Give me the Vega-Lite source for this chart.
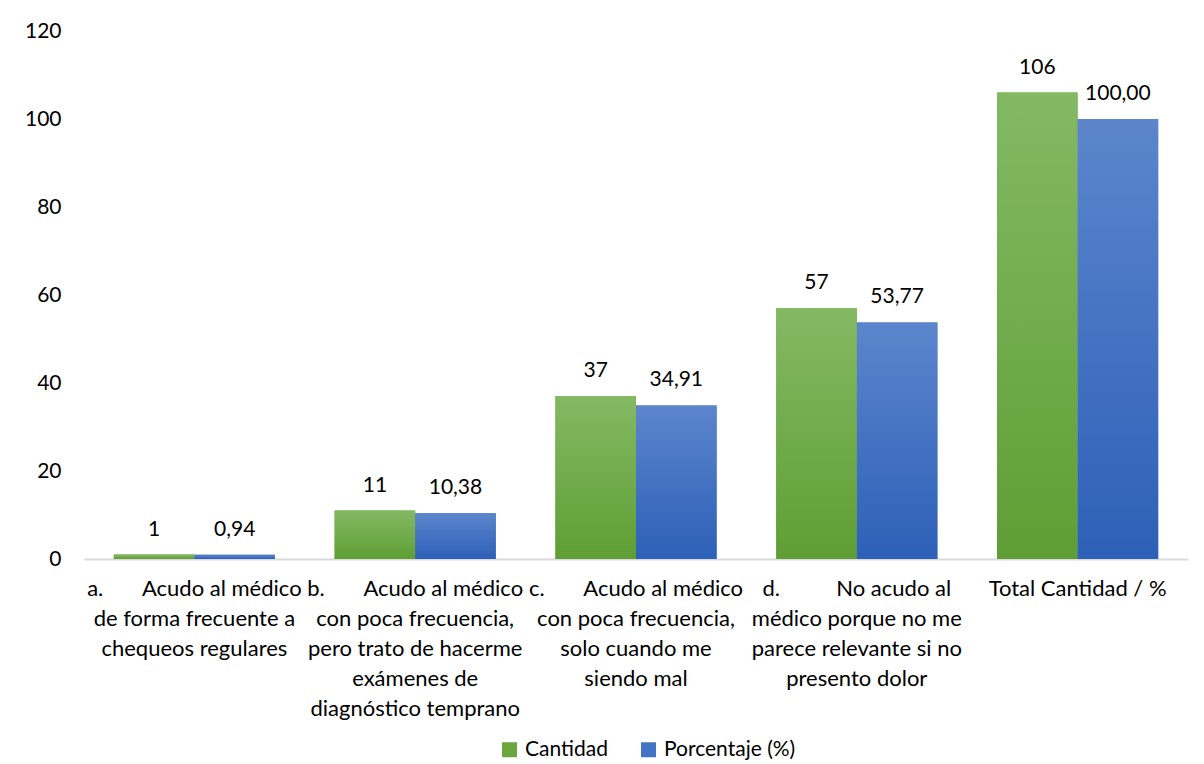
{
  "$schema": "https://vega.github.io/schema/vega-lite/v6.json",
  "width": 1104,
  "height": 528,
  "autosize": "none",
  "padding": {"left": 84, "top": 31, "right": 16, "bottom": 205},
  "background": "white",
  "config": {
    "view": {"stroke": null},
    "font": "Lato",
    "locale": {"number": {"decimal": ",", "thousands": ".", "grouping": [3], "currency": ["", ""]}}
  },
  "data": {
    "values": [
      {"categoria": "a. Acudo al médico de forma frecuente a chequeos regulares", "serie": "Cantidad", "valor": 1},
      {"categoria": "a. Acudo al médico de forma frecuente a chequeos regulares", "serie": "Porcentaje (%)", "valor": 0.94},
      {"categoria": "b. Acudo al médico con poca frecuencia, pero trato de hacerme exámenes de diagnóstico temprano", "serie": "Cantidad", "valor": 11},
      {"categoria": "b. Acudo al médico con poca frecuencia, pero trato de hacerme exámenes de diagnóstico temprano", "serie": "Porcentaje (%)", "valor": 10.38},
      {"categoria": "c. Acudo al médico con poca frecuencia, solo cuando me siendo mal", "serie": "Cantidad", "valor": 37},
      {"categoria": "c. Acudo al médico con poca frecuencia, solo cuando me siendo mal", "serie": "Porcentaje (%)", "valor": 34.91},
      {"categoria": "d. No acudo al médico porque no me parece relevante si no presento dolor", "serie": "Cantidad", "valor": 57},
      {"categoria": "d. No acudo al médico porque no me parece relevante si no presento dolor", "serie": "Porcentaje (%)", "valor": 53.77},
      {"categoria": "Total Cantidad / %", "serie": "Cantidad", "valor": 106},
      {"categoria": "Total Cantidad / %", "serie": "Porcentaje (%)", "valor": 100.0}
    ]
  },
  "encoding": {
    "x": {
      "field": "categoria",
      "type": "nominal",
      "sort": null,
      "scale": {"paddingInner": 0.27, "paddingOuter": 0.135},
      "axis": {
        "title": null,
        "labelAngle": 0,
        "labelFont": "Lato",
        "labelFontSize": 22,
        "labelColor": "#000000",
        "labelLineHeight": 30,
        "labelPadding": 19,
        "labelLimit": 0,
        "ticks": false,
        "domain": true,
        "domainColor": "#d9d9d9",
        "domainWidth": 2,
        "labelExpr": "indexof(datum.value, 'a.') == 0 ? ['a.\u00a0\u00a0\u00a0\u00a0\u00a0\u00a0\u00a0Acudo al médico', 'de forma frecuente a', 'chequeos regulares'] : indexof(datum.value, 'b.') == 0 ? ['b.\u00a0\u00a0\u00a0\u00a0\u00a0\u00a0\u00a0Acudo al médico', 'con poca frecuencia,', 'pero trato de hacerme', 'exámenes de', 'diagnóstico temprano'] : indexof(datum.value, 'c.') == 0 ? ['c.\u00a0\u00a0\u00a0\u00a0\u00a0\u00a0\u00a0Acudo al médico', 'con poca frecuencia,', 'solo cuando me', 'siendo mal'] : indexof(datum.value, 'd.') == 0 ? ['d.\u00a0\u00a0\u00a0\u00a0\u00a0\u00a0\u00a0\u00a0\u00a0\u00a0No acudo al', 'médico porque no me', 'parece relevante si no', 'presento dolor'] : datum.value"
      }
    },
    "xOffset": {"field": "serie", "type": "nominal", "sort": ["Cantidad", "Porcentaje (%)"], "scale": {"paddingInner": 0, "paddingOuter": 0}},
    "y": {
      "field": "valor",
      "type": "quantitative",
      "scale": {"domain": [0, 120], "nice": false},
      "axis": {
        "title": null,
        "values": [0, 20, 40, 60, 80, 100, 120],
        "domain": false,
        "ticks": false,
        "grid": false,
        "labelFont": "Lato",
        "labelFontSize": 21,
        "labelColor": "#000000",
        "labelPadding": 23
      }
    }
  },
  "layer": [
    {
      "mark": {"type": "bar"},
      "encoding": {
        "color": {
          "field": "serie",
          "type": "nominal",
          "scale": {"domain": ["Cantidad", "Porcentaje (%)"], "range": ["#6aa83f", "#4472c4"]},
          "legend": {
            "title": null,
            "orient": "none",
            "direction": "horizontal",
            "legendX": 415,
            "legendY": 708,
            "symbolType": "square",
            "symbolSize": 225,
            "symbolStrokeWidth": 0,
            "labelFont": "Lato",
            "labelFontSize": 21,
            "labelColor": "#000000",
            "columnPadding": 30,
            "labelOffset": 5
          }
        }
      }
    },
    {
      "transform": [{"filter": "datum.serie == 'Cantidad'"}],
      "mark": {
        "type": "bar",
        "color": {"gradient": "linear", "x1": 0, "y1": 0, "x2": 0, "y2": 1, "stops": [{"offset": 0, "color": "#84b964"}, {"offset": 1, "color": "#5f9e34"}]}
      }
    },
    {
      "transform": [{"filter": "datum.serie == 'Porcentaje (%)'"}],
      "mark": {
        "type": "bar",
        "color": {"gradient": "linear", "x1": 0, "y1": 0, "x2": 0, "y2": 1, "stops": [{"offset": 0, "color": "#5c85cc"}, {"offset": 1, "color": "#2d60b8"}]}
      }
    },
    {
      "transform": [{"filter": "datum.serie == 'Cantidad'"}],
      "mark": {"type": "text", "dy": -25, "fontSize": 21, "font": "Lato", "color": "#000000"},
      "encoding": {"text": {"field": "valor", "type": "quantitative", "format": "d"}}
    },
    {
      "transform": [{"filter": "datum.serie == 'Porcentaje (%)'"}],
      "mark": {"type": "text", "dy": -25, "fontSize": 21, "font": "Lato", "color": "#000000"},
      "encoding": {"text": {"field": "valor", "type": "quantitative", "format": ".2f"}}
    }
  ]
}
